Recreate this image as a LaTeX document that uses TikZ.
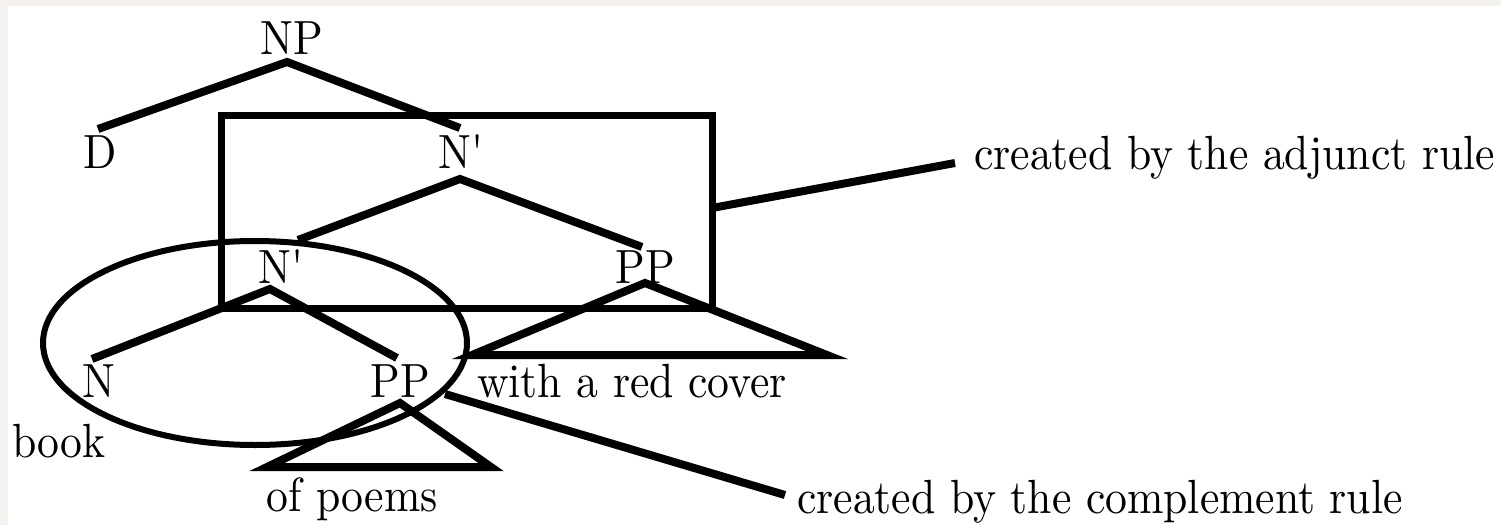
\documentclass[tikz,border=0pt]{standalone}
\usepackage{fontspec}
\setmainfont{lmroman10-regular.otf}[FakeStretch=0.91, Ligatures=TeXOff]
\definecolor{bgtex}{HTML}{F4F1EE}
\begin{document}
\begin{tikzpicture}[x=1pt,y=-1pt,
  lbl/.style={inner sep=0pt, anchor=base, font=\rmfamily\fontsize{48}{58}\selectfont},
  lblw/.style={lbl, anchor=base west},
  edge/.style={line width=8pt, line cap=butt, line join=miter},
  frame/.style={line width=7pt},
  loop/.style={line width=6pt}]
\useasboundingbox (0,0) rectangle (1501,525);
\fill[bgtex] (0,0) rectangle (1501,525);
\fill[white] (8,6) rectangle (1501,525);
% labels
\node[lbl] (np) at (292,54) {NP};
\node[lbl] (d) at (100,168) {D};
\node[lbl] (nb1) at (461,168) {N'};
\node[lbl] (nb2) at (281,283) {N'};
\node[lbl] (pp1) at (645,283) {PP};
\node[lbl] (n) at (99,397) {N};
\node[lbl] (pp2) at (400,397) {PP};
\node[lblw] (wrc) at (477,397) {with a red cover};
\node[lblw] (book) at (12,457) {book};
\node[lbl] (ofp) at (352,511) {of poems};
\node[lblw] (adj) at (974,169) {created by the adjunct rule};
\node[lblw] (comp) at (797,513) {created by the complement rule};
% branch points
\coordinate (np-a) at (287,62);
\coordinate (d-t) at (98,129);
\coordinate (nb1-t) at (460,128);
\coordinate (nb1-a) at (460,179);
\coordinate (nb2-t) at (298,240);
\coordinate (pp1-t) at (642,247);
\coordinate (nb2-a) at (270,289);
\coordinate (n-t) at (92,359);
\coordinate (pp2-t) at (397,358);
\coordinate (pp1-a) at (645,283);
\coordinate (pp1-l) at (472,355);
\coordinate (pp1-r) at (827,355);
\coordinate (pp2-a) at (400,403);
\coordinate (pp2-l) at (267,467);
\coordinate (pp2-r) at (491,467);
% tree
\draw[edge] (d-t) -- (np-a) -- (nb1-t);
\draw[edge] (nb2-t) -- (nb1-a) -- (pp1-t);
\draw[edge] (n-t) -- (nb2-a) -- (pp2-t);
\draw[edge] (pp1-l) -- (pp1-a) -- (pp1-r) -- cycle;
\draw[edge] (pp2-l) -- (pp2-a) -- (pp2-r) -- cycle;
% adjunct box and complement ellipse
\coordinate (box-nw) at (221,115);
\coordinate (box-se) at (712,308);
\draw[frame] (box-nw) rectangle (box-se);
\coordinate (ell-c) at (255,343);
\draw[loop] (ell-c) ellipse [x radius=212, y radius=102];
% pointer lines
\coordinate (box-e) at (712,208);
\coordinate (adj-w) at (955,163);
\coordinate (ell-e) at (445,394);
\coordinate (comp-w) at (785,495);
\draw[edge] (box-e) -- (adj-w);
\draw[edge] (ell-e) -- (comp-w);
\end{tikzpicture}
\end{document}
